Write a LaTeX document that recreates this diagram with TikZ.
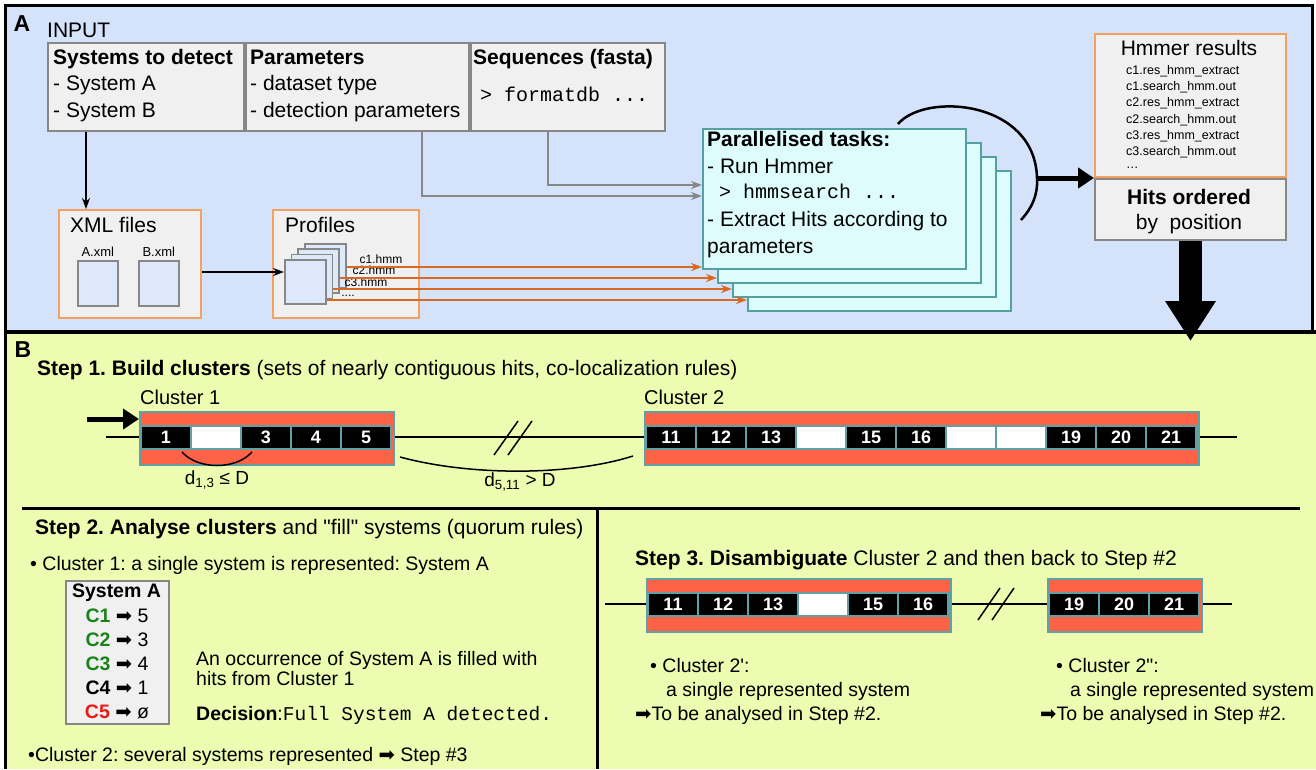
\documentclass[tikz,border=0pt]{standalone}
\usepackage{fontspec}
\setmainfont{Liberation Sans}
\setmonofont{Liberation Mono}
\newfontfamily\arrowfont{DejaVu Sans}
\usetikzlibrary{arrows.meta}
\usetikzlibrary{positioning}

\definecolor{PanelBlue}{RGB}{212,226,250}
\definecolor{PanelLime}{RGB}{237,252,176}
\definecolor{BoxGray}{RGB}{240,240,240}
\definecolor{EdgeGray}{RGB}{135,135,135}
\definecolor{FileOrange}{RGB}{245,160,95}
\definecolor{HmmOrange}{RGB}{215,105,35}
\definecolor{TaskCyan}{RGB}{222,252,252}
\definecolor{TaskTeal}{RGB}{85,160,160}
\definecolor{HitRed}{RGB}{255,99,71}
\definecolor{HitTeal}{RGB}{95,160,165}
\definecolor{CompGreen}{RGB}{25,130,25}
\definecolor{CompRed}{RGB}{235,25,25}

\newcommand{\fs}[1]{\fontsize{#1}{#1}\selectfont}
\newcommand{\rarr}{{\arrowfont ➡}}
\frenchspacing

\begin{document}
\begin{tikzpicture}[x=1pt,y=-1pt]
        \tikzset{
            lbl/.style={inner sep=0pt, text height=15pt, text depth=0pt, anchor=west, font=\fs{21}},
            body/.style={lbl, text height=14pt, font=\fs{19.5}},
            inbox/.style={draw=EdgeGray, fill=BoxGray, line width=2pt, inner sep=0pt, anchor=north west},
            filebox/.style={draw=FileOrange, fill=BoxGray, line width=2pt, inner sep=0pt, anchor=north west},
            docbox/.style={draw=EdgeGray, fill=PanelBlue!80!white, line width=1.5pt, inner sep=0pt, anchor=north west},
            taskbox/.style={draw=TaskTeal, fill=TaskCyan, line width=2pt, inner sep=0pt, anchor=north west,
                minimum width=263, minimum height=140},
            clusterbox/.style={draw=HitTeal, fill=HitRed, line width=1.5pt, inner sep=0pt, anchor=north west,
                minimum height=53},
            hitcell/.style={draw=HitTeal, line width=1.2pt, text=white, inner sep=0pt, minimum width=50,
                minimum height=23, font=\fs{18}\bfseries},
            small/.style={inner sep=0pt, font=\fs{12}},
            arr/.style={line width=1.5pt, -{Stealth[length=11pt,width=8pt]}},
            garr/.style={draw=EdgeGray, line width=2pt, arrows={-{Stealth[length=11pt,width=8pt,fill=black]}}},
            harr/.style={draw=HmmOrange, line width=2pt, arrows={-{Stealth[length=11pt,width=8pt,fill=black]}}},
            bigarr/.style={line width=5pt, -{Triangle[length=16pt,width=20pt]}},
            thin/.style={line width=1.5pt}
        }
        \newcommand{\HitCluster}[5]{% name, west x, top y, number of cells, cells
            \node[clusterbox, minimum width=50*#4+4] (#1) at (#2,#3) {};
            \foreach \lab/\hitfill [count=\i] in {#5}
                \node[hitcell, fill=\hitfill] (#1-\i) at (#2+2+50*\i-25, #3+26.5) {\lab};
        }
        \useasboundingbox (0,0) rectangle (1316,769);

        % panels
        \fill[PanelBlue] (5,5) rectangle (1312,332);
        \fill[PanelLime] (5,332) rectangle (1316,769);
        \draw[line width=3pt] (5,769) -- (5,5) -- (1312,5) -- (1312,332);
        \draw[line width=4pt] (5,332) -- (1316,332);

        %% A: input
        \node[inner sep=0pt, font=\fs{23}\bfseries] (labA) at (22,24) {A};
        \node[lbl] (input) at (47,30) {INPUT};

        \node[inbox, minimum width=196, minimum height=88] (systems) at (47,42) {};
        \node[inbox, minimum width=223, minimum height=88] (params) at (systems.north east) {};
        \node[inbox, minimum width=194, minimum height=88] (seqs) at (params.north east) {};
        \node[lbl, font=\fs{21}\bfseries] (systemsT) at (53,57) {Systems to detect};
        \node[lbl] (sysA) at (53,83) {- System A};
        \node[lbl] (sysB) at (53,110) {- System B};
        \node[lbl, font=\fs{21}\bfseries] (paramsT) at (250,57) {Parameters};
        \node[lbl] (dataset) at (250,83) {- dataset type};
        \node[lbl] (detection) at (250,110) {- detection parameters};
        \node[lbl, font=\fs{21}\bfseries] (seqsT) at (473,57) {Sequences (fasta)};
        \node[lbl, font=\fs{20}\ttfamily] (formatdb) at (480,94) {> formatdb ...};

        % xml files and profiles
        \node[filebox, minimum width=142, minimum height=108] (xml) at (58,209) {};
        \node[lbl] (xmlT) at (70,225) {XML files};
        \node[docbox, minimum width=40, minimum height=45] (xmlA) at (77,260) {};
        \node[docbox, minimum width=40, minimum height=45] (xmlB) at (138,260) {};
        \node[small, font=\fs{13}, above=3pt of xmlA] (xmlAT) {A.xml};
        \node[small, font=\fs{13}, above=3pt of xmlB] (xmlBT) {B.xml};

        \node[filebox, minimum width=146, minimum height=108] (profiles) at (272,209) {};
        \node[lbl] (profilesT) at (285,225) {Profiles};
        \foreach \k in {3,2,1,0}
            \node[docbox, minimum width=41, minimum height=44] (doc\k) at (284+6.7*\k, 259-5.3*\k) {};
        \node[small] (c1) at (381,259) {c1.hmm};
        \node[small] (c2) at (374,270.5) {c2.hmm};
        \node[small] (c3) at (366,282.5) {c3.hmm};
        \node[small] (cdots) at (348,296) {....};

        % parallel tasks
        \foreach \k in {3,2,1,0}
            \node[taskbox] (task\k) at (702+15*\k, 128+14*\k) {};
        \node[lbl, font=\fs{21}\bfseries] (tasksT) at (707,139) {Parallelised tasks:};
        \node[lbl] (runhmm) at (707,166) {- Run Hmmer};
        \node[lbl, font=\fs{20}\ttfamily] (hmmsearch) at (719,191) {> hmmsearch ...};
        \node[lbl] (extract) at (707,219) {- Extract Hits according to};
        \node[lbl] (extract2) at (707,246) {parameters};

        % connectors of A
        \draw[arr] ([xshift=39]systems.south west) -- ([xshift=28]xml.north west);
        \draw[garr] ([xshift=177]params.south west) |- ([yshift=3]task0.west);
        \draw[garr] ([xshift=78]seqs.south west) |- ([yshift=14]task0.west);
        \draw[arr] ([yshift=-8]xml.east) -- ([yshift=-8]xml.east -| doc0.west);
        \draw[harr] (doc3.east |- 0,267) -- (task0.west |- 0,267);
        \draw[harr] (doc2.east |- 0,278) -- (task1.west |- 0,278);
        \draw[harr] (doc1.east |- 0,289) -- (task2.west |- 0,289);
        \draw[harr] (doc0.east |- 0,300) -- (task3.west |- 0,300);

        % hmmer results
        \node[filebox, minimum width=191, minimum height=143] (hmmres) at (1094,33) {};
        \node[inbox, minimum width=191, minimum height=61] (hits) at (hmmres.south west) {};
        \node[inner sep=0pt, font=\fs{21}] (hmmresT) at (1189,48) {Hmmer results};
        \foreach \f [count=\i] in {c1.res\_hmm\_extract, c1.search\_hmm.out, c2.res\_hmm\_extract,
                c2.search\_hmm.out, c3.res\_hmm\_extract, c3.search\_hmm.out}
            \node[small, font=\fs{12.5}, anchor=west] (res\i) at (1126, 55+16.2*\i) {\f};
        \node[small, font=\fs{12.5}, anchor=west] (res7) at (1126, 168) {\ldots};
        \node[inner sep=0pt, font=\fs{21}\bfseries] (hitsT) at (1189,197) {Hits ordered};
        \node[inner sep=0pt, font=\fs{21}] (hitsT2) at (1189,224) {by\ \ position};

        \coordinate (arcend) at (1037,178);
        \draw[line width=2.5pt] (898,124) .. controls (925,92) and (1035,100) .. (arcend)
            .. controls (1038,195) and (1032,208) .. (1021,220);
        \draw[bigarr] (arcend) -- (arcend -| hits.west);
        \draw[line width=23pt, -{Triangle[length=40pt,width=48pt]}] (hits.south) -- ++(0,100);

        %% B: steps
        \node[inner sep=0pt, font=\fs{23}\bfseries] (labB) at (23,350) {B};
        \node[lbl] (step1) at (37,368) {\textbf{Step 1. Build clusters} (sets of nearly contiguous hits, co-localization rules)};
        \node[lbl, font=\fs{20}] (clu1T) at (140,397) {Cluster 1};
        \node[lbl, font=\fs{20}] (clu2T) at (644,397) {Cluster 2};

        \coordinate (gstart) at (106,437);
        \coordinate (gend) at (1237,437);
        \draw[thin] (gstart) -- (gend);
        \draw[thin] (494,455) -- (518,421) (508,455) -- (532,421);
        \HitCluster{clu1}{139}{411}{5}{1/black, /white, 3/black, 4/black, 5/black}
        \HitCluster{clu2}{644}{411}{11}{11/black, 12/black, 13/black, /white, 15/black, 16/black,
            /white, /white, 19/black, 20/black, 21/black}
        \draw[bigarr] (87,419) -- ([yshift=-8]clu1.north west);

        \draw[thin] (182,452) .. controls (198,470) and (236,470) .. (252,452);
        \node[inner sep=0pt, font=\fs{19}] (d13) at (217,480) {d\textsubscript{1,3} ≤ D};
        \draw[thin] (400,457) .. controls (470,476) and (570,476) .. (633,456);
        \node[inner sep=0pt, font=\fs{19}] (d511) at (520,482) {d\textsubscript{5,11} > D};

        \draw[line width=3pt] (22,508) -- (1300,508);
        \draw[line width=3pt] (597,508) -- (597,769);

        % step 2
        \node[lbl] (step2) at (35,527) {\textbf{Step 2. Analyse clusters} and \textquotedbl fill\textquotedbl{} systems (quorum rules)};
        \node[body] (clu1note) at (30,563) {\textbullet\ Cluster 1: a single system is represented: System A};
        \node[inbox, minimum width=103, minimum height=143] (sysAbox) at (65,580) {};
        \node[inner sep=0pt, font=\fs{19.5}\bfseries] (sysAT) at (116.5,593) {System A};
        \foreach \c/\hit/\ccol [count=\i] in {C1/5/CompGreen, C2/3/CompGreen, C3/4/CompGreen, C4/1/black, C5/ø/CompRed}
            \node[inner sep=0pt, font=\fs{19.5}] (comp\i) at (117,592+24*\i) {\textcolor{\ccol}{\textbf{\c}} \rarr{} \hit};
        \node[body] (occ1) at (196,658) {An occurrence of System A is filled with};
        \node[body] (occ2) at (196,678) {hits from Cluster 1};
        \node[body] (decision) at (196,713) {\textbf{Decision}:\texttt{Full System A detected.}};
        \node[body] (clu2note) at (28,754) {\textbullet Cluster 2: several systems represented \rarr{} Step \#3};

        % step 3
        \node[lbl] (step3) at (635,558) {\textbf{Step 3. Disambiguate} Cluster 2 and then back to Step \#2};
        \coordinate (hstart) at (605,604);
        \coordinate (hend) at (1232,604);
        \draw[thin] (hstart) -- (hend);
        \draw[thin] (978,620) -- (1000,588) (992,620) -- (1014,588);
        \HitCluster{clu2a}{646}{578}{6}{11/black, 12/black, 13/black, /white, 15/black, 16/black}
        \HitCluster{clu2b}{1047}{578}{3}{19/black, 20/black, 21/black}

        \node[body] (n2a1) at (650,665) {\textbullet\ Cluster 2\textquotesingle:};
        \node[body] (n2a2) at (666,689) {a single represented system};
        \node[body] (n2a3) at (635,713) {\rarr To be analysed in Step \#2.};
        \node[body] (n2b1) at (1056,665) {\textbullet\ Cluster 2\textquotedbl:};
        \node[body] (n2b2) at (1070,689) {a single represented system};
        \node[body] (n2b3) at (1040,713) {\rarr To be analysed in Step \#2.};
    \end{tikzpicture}
\end{document}
